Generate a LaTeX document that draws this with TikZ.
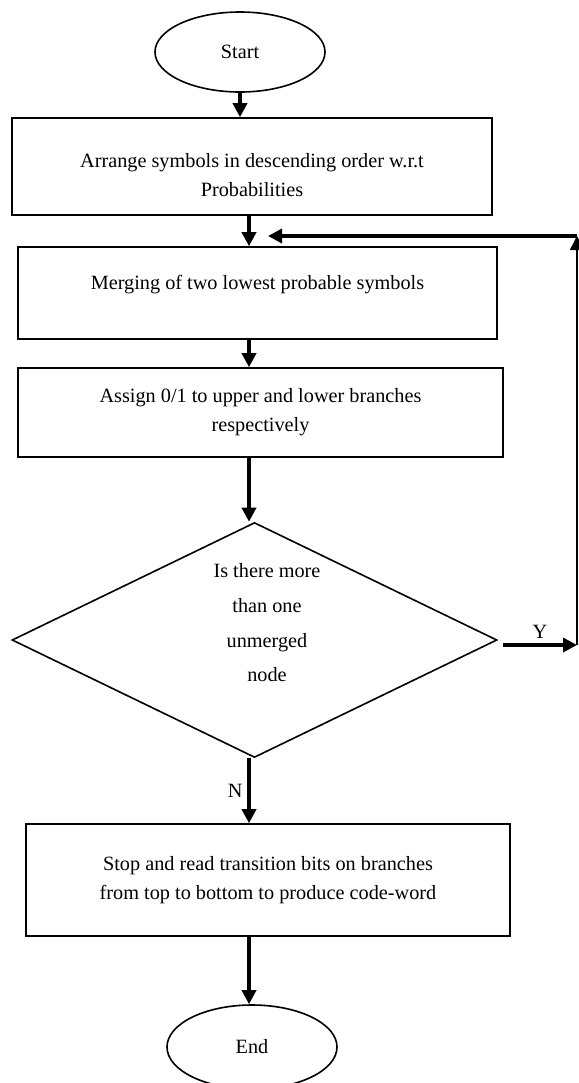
\documentclass[tikz,border=0pt]{standalone}
\usepackage{fontspec}
\setmainfont{Liberation Serif}
\usetikzlibrary{shapes.geometric,arrows.meta,calc}
\tikzset {>={Triangle[width=10.5pt,length=10.5pt]}}
\tikzset{words/.style={align=center,font=\fontsize{15.2}{21.75}\selectfont},
  box/.style={draw,line width=1.2pt,inner sep=0pt,words},
  terminal/.style={ellipse,draw,line width=1.2pt,inner sep=0pt,words},
  flow/.style={->,line width=3pt}}

\begin{document}
\begin{tikzpicture}[x=0.75pt,y=-0.75pt]
\useasboundingbox (0,0) rectangle (579,1083);
\coordinate (col) at (249,0);
\node[terminal,minimum width=127.5pt,minimum height=60pt] (start) at (240,52) {Start};
\node[box,minimum width=360pt,minimum height=72.75pt,label={[words,yshift=-6.5pt]center:Arrange symbols in descending order w.r.t\\Probabilities}] (arrange) at (252,166.5) {};
\node[box,minimum width=359.25pt,minimum height=69pt,label={[words,yshift=6pt]center:Merging of two lowest probable symbols}] (merge) at (257.5,293) {};
\node[box,minimum width=363.75pt,minimum height=66.75pt] (assign) at (260.5,412.5) {Assign 0/1 to upper and lower branches\\respectively};
\node[diamond,draw,line width=1.2pt,inner sep=0pt,aspect=2,minimum width=363.75pt,minimum height=176.25pt] (ask) at (254.5,640) {};
\node[align=center,font=\fontsize{15.2}{26}\selectfont] (asktext) at (267,623) {Is there more\\than one\\unmerged\\node};
\node[box,minimum width=363pt,minimum height=84pt] (stop) at (268,880) {Stop and read transition bits on branches\\from top to bottom to produce code-word};
\node[terminal,minimum width=127.5pt,minimum height=63pt] (end) at (252,1047) {End};

\draw[flow] (start.south) -- (start.south |- arrange.north);
\draw[flow] (arrange.south -| col) -- (merge.north -| col);
\draw[flow] (merge.south -| col) -- (assign.north -| col);
\draw[flow] (assign.south -| col) -- (ask.north -| col);
\draw[flow] (ask.south -| col) -- (stop.north -| col) node[midway,left,words] {N};
\draw[flow] (stop.south -| col) -- (end.north -| col);

\coordinate (yend) at (577,645);
\coordinate (ytop) at (577,236);
\coordinate (back) at (268,236);
\draw[flow] ($(ask.east)+(5,5)$) -- (yend) node[midway,above,words] {Y};
\draw[->,line width=1.2pt] (yend) -- (ytop);
\draw[flow] (ytop) -- (back);
\end{tikzpicture}
\end{document}
